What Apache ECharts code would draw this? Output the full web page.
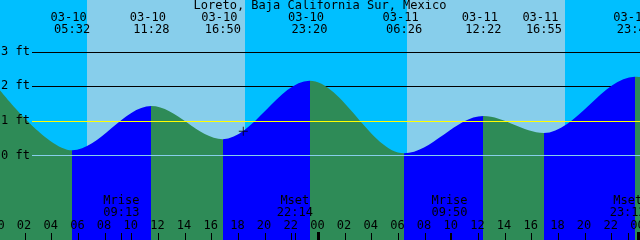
<!DOCTYPE html>
<html><head><meta charset="utf-8">
<script src="https://cdn.jsdelivr.net/npm/echarts@6/dist/echarts.min.js"></script>
<style>html,body{margin:0;padding:0;background:#fff}#c{width:640px;height:240px}</style>
</head><body><div id="c"></div>
<script>
const title = 'Loreto, Baja California Sur, Mexico';
// tide extremes
const eventDates = ['03-10','03-10','03-10','03-10','03-11','03-11','03-11','03-11'];
const eventTimes = ['05:32','11:28','16:50','23:20','06:26','12:22','16:55','23:44'];
const eventKinds = ['low','high','low','high','low','high','low','high'];
const eventFeet  = [0.15, 1.43, 0.47, 2.16, 0.06, 1.14, 0.65, 2.28];
// curve level read at the chart's left and right edges (hours since 03-10 00:00, feet)
const edgeHours = [0.12, 48.12];
const edgeFeet  = [1.89, 2.27];
// sun
const sunrise = ['03-10 06:39','03-11 06:39'];
const sunset  = ['03-10 18:30','03-11 18:30'];
// moon
const moonNames = ['Mrise','Mset','Mrise','Mset'];
const moonTimes = ['03-10 09:13','03-10 22:14','03-11 09:50','03-11 23:12'];
// now marker
const nowTime = '03-10 18:22';
const nowFeet = 0.70;
// levels
const levelLabels = ['3 ft','2 ft','1 ft','0 ft'];
const levelValues = [3,2,1,0];
const hourTicks = [0,2,4,6,8,10,12,14,16,18,20,22,24,26,28,30,32,34,36,38,40,42,44,46,48];
const hourLabels = ['00','02','04','06','08','10','12','14','16','18','20','22','00','02','04','06','08','10','12','14','16','18','20','22','00'];
const midnightTicks = [24,48];

const X_MIN = 0.12, X_MAX = 48.12, Y_MIN = -2.45, Y_MAX = 4.5;
const FONT = '12px "DejaVu Sans Mono"';
const GREEN = '#2E8B57', BLUE = '#0000FF';

function toH(date, time){
  const d = parseInt(date.split('-')[1],10) - 10;
  const [hh,mm] = time.split(':').map(Number);
  return d*24 + hh + mm/60;
}
function toH2(s){ const [a,b] = s.split(' '); return toH(a,b); }

const evH = eventDates.map((d,i)=>toH(d,eventTimes[i]));
const pts = edgeHours.map((h,i)=>[h,edgeFeet[i]]).concat(evH.map((h,i)=>[h,eventFeet[i]]));
pts.sort((a,b)=>a[0]-b[0]);

const pieces = [];
pieces.push({lt: evH[0], color: eventKinds[0]==='low'?GREEN:BLUE});
for (let i=0;i<evH.length;i++){
  const next = i+1<evH.length ? evH[i+1] : 1000;
  pieces.push({gte: evH[i], lt: next, color: eventKinds[i]==='low'?BLUE:GREEN});
}

const dayData = sunrise.map((s,i)=>[toH2(s), toH2(sunset[i])]);

function lineRender(colorFn){
  return function(params, api){
    const cs = params.coordSys;
    const v = api.value(1);
    const y = Math.round(api.coord([X_MIN, v])[1]) + 0.5;
    return {type:'line', shape:{x1: cs.x+32, y1:y, x2: cs.x+cs.width, y2:y},
      style:{stroke: colorFn(v), lineWidth:1}};
  };
}

const chart = echarts.init(document.getElementById('c'), null, {renderer:'canvas'});
chart.setOption({
  animation:false,
  title:{text:title, left:'center', top:0, padding:0, itemGap:0,
    textStyle:{fontFamily:'DejaVu Sans Mono', fontSize:12, fontWeight:'normal', color:'#000', lineHeight:12}},
  grid:{left:0,right:0,top:0,bottom:0, containLabel:false, outerBoundsMode:'none', show:true, backgroundColor:'#00BFFF', borderWidth:0},
  xAxis:{type:'value', min:X_MIN, max:X_MAX, z:10,
    axisLine:{show:false, onZero:false}, splitLine:{show:false},
    axisTick:{show:true, inside:true, length:7, customValues:hourTicks, lineStyle:{color:'#000', width:1}},
    axisLabel:{show:false}},
  yAxis:{type:'value', min:Y_MIN, max:Y_MAX, show:false},
  visualMap:{type:'piecewise', show:false, dimension:0, seriesIndex:2, pieces:pieces},
  series:[
    {type:'custom', z:1, data:dayData, silent:true,
      renderItem:(params, api)=>{
        const cs = params.coordSys;
        const a = Math.round(api.coord([api.value(0),0])[0]);
        const b = Math.round(api.coord([api.value(1),0])[0]);
        return {type:'rect', shape:{x:a, y:cs.y, width:b-a, height:cs.height}, style:{fill:'#87CEEB'}};
      }},
    {type:'custom', z:2, data:levelValues.filter(v=>v>=2).map(v=>[X_MIN,v]), silent:true,
      renderItem: lineRender(()=>'#000')},
    {type:'line', z:3, data:pts, smooth:0.34, smoothMonotone:'x', symbol:'none', silent:true,
      lineStyle:{width:0}, areaStyle:{opacity:1, origin:'start'}},
    {type:'custom', z:4, data:levelValues.filter(v=>v<2).map(v=>[X_MIN,v]), silent:true,
      renderItem: lineRender(v=> v===1 ? '#FFFF00' : '#87CEEB')},
    {type:'custom', z:5, data:levelValues.map((v,i)=>[X_MIN,v,i]), silent:true,
      renderItem:(params, api)=>{
        const y = api.coord([X_MIN, api.value(1)])[1];
        return {type:'text', x:1, y:y, style:{text: levelLabels[api.value(2)], font:FONT, fill:'#000', align:'left', verticalAlign:'middle'}};
      }},
    {type:'custom', z:5, data:hourTicks.map((h,i)=>[h,0,i]), silent:true,
      renderItem:(params, api)=>{
        const x = api.coord([api.value(0),0])[0];
        return {type:'text', x:x-1, y:225.5, style:{text: hourLabels[api.value(2)], font:FONT, fill:'#000', align:'center', verticalAlign:'middle'}};
      }},
    {type:'custom', z:5, data:evH.map((h,i)=>[h,0,i]), silent:true,
      renderItem:(params, api)=>{
        const x = api.coord([api.value(0),0])[0];
        const i = api.value(2);
        return {type:'group', children:[
          {type:'text', x:x-3.5, y:18, style:{text:eventDates[i], font:FONT, fill:'#000', align:'center', verticalAlign:'middle'}},
          {type:'text', x:x, y:30, style:{text:eventTimes[i], font:FONT, fill:'#000', align:'center', verticalAlign:'middle'}}
        ]};
      }},
    {type:'custom', z:5, data:moonTimes.map((t,i)=>[toH2(t),0,i]), silent:true,
      renderItem:(params, api)=>{
        const cs = params.coordSys;
        const x = api.coord([api.value(0),0])[0];
        const i = api.value(2);
        const bottom = cs.y + cs.height;
        return {type:'group', children:[
          {type:'text', x:x, y:201, style:{text:moonNames[i], font:FONT, fill:'#000', align:'center', verticalAlign:'middle'}},
          {type:'text', x:x, y:213, style:{text:moonTimes[i].split(' ')[1], font:FONT, fill:'#000', align:'center', verticalAlign:'middle'}},
          {type:'rect', shape:{x:Math.round(x), y:bottom-7, width:1, height:7}, style:{fill:'#000'}}
        ]};
      }},
    {type:'custom', z:5, data:midnightTicks.map(h=>[h,0]), silent:true,
      renderItem:(params, api)=>{
        const cs = params.coordSys;
        const x = api.coord([api.value(0),0])[0];
        const bottom = cs.y + cs.height;
        return {type:'rect', shape:{x:Math.round(x)-1, y:bottom-8, width:3, height:8}, style:{fill:'#000'}};
      }},
    {type:'scatter', z:6, data:[[toH2(nowTime), nowFeet]], silent:true,
      symbol:'path://M0,4h9v1h-9z M4,0h1v9h-1z', symbolSize:9, itemStyle:{color:'#000'}}
  ]
});
</script>
</body></html>
